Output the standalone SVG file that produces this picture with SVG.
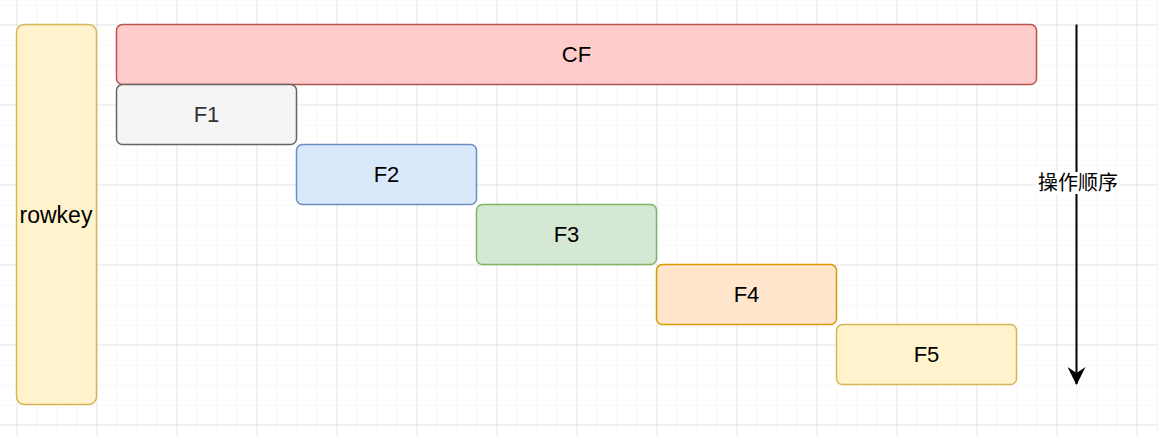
<svg xmlns="http://www.w3.org/2000/svg" width="1158" height="436" viewBox="0 0 1158 436">
<style>
.lbl{font-family:"Liberation Sans",Arial,sans-serif;font-size:22px;text-anchor:middle;dominant-baseline:central;fill:#000}
.cjk{font-family:"Liberation Sans","Noto Sans CJK SC",sans-serif;font-size:20px;text-anchor:middle;dominant-baseline:central;fill:#000}
</style>
<defs>
<pattern id="minor" x="16.5" y="4.5" width="20" height="20" patternUnits="userSpaceOnUse">
<path d="M0 0H20M0 0V20" fill="none" stroke="#efefef" stroke-width="1"/>
</pattern>
<pattern id="major" x="16.5" y="24.5" width="80" height="80" patternUnits="userSpaceOnUse">
<path d="M0 0H80M0 0V80" fill="none" stroke="#d3d3d3" stroke-width="1"/>
</pattern>
<marker id="arr" viewBox="0 0 18 18" refX="17" refY="9" markerWidth="18" markerHeight="18" markerUnits="userSpaceOnUse" orient="auto">
<path d="M0 0L18 9L0 18L6 9Z" fill="#000"/>
</marker>
</defs>
<rect width="1158" height="436" fill="#fff"/>
<rect width="1158" height="436" fill="url(#minor)"/>
<rect width="1158" height="436" fill="url(#major)"/>
<g id="rowkey">
<rect x="16.5" y="24.5" width="80" height="380" rx="8" fill="#fff2cc" stroke="#d6b656" stroke-width="1.5"/>
<text class="lbl" x="56" y="215" style="font-size:23px">rowkey</text>
</g>
<g id="CF">
<rect x="116.5" y="24.5" width="920" height="60" rx="6" fill="#ffcccc" stroke="#b85450" stroke-width="1.5"/>
<text class="lbl" x="576.5" y="54.5">CF</text>
</g>
<g id="F1">
<rect x="116.5" y="84.5" width="180" height="60" rx="6" fill="#f5f5f5" stroke="#666666" stroke-width="1.5"/>
<text class="lbl" x="206.5" y="114.5" style="fill:#333333">F1</text>
</g>
<g id="F2">
<rect x="296.5" y="144.5" width="180" height="60" rx="6" fill="#dae8fc" stroke="#6c8ebf" stroke-width="1.5"/>
<text class="lbl" x="386.5" y="174.5">F2</text>
</g>
<g id="F3">
<rect x="476.5" y="204.5" width="180" height="60" rx="6" fill="#d5e8d4" stroke="#82b366" stroke-width="1.5"/>
<text class="lbl" x="566.5" y="234.5">F3</text>
</g>
<g id="F4">
<rect x="656.5" y="264.5" width="180" height="60" rx="6" fill="#ffe6cc" stroke="#d79b00" stroke-width="1.5"/>
<text class="lbl" x="746.5" y="294.5">F4</text>
</g>
<g id="F5">
<rect x="836.5" y="324.5" width="180" height="60" rx="6" fill="#fff2cc" stroke="#d6b656" stroke-width="1.5"/>
<text class="lbl" x="926.5" y="354.5">F5</text>
</g>
<g id="connectors">
<line x1="1076.5" y1="24.5" x2="1076.5" y2="384" stroke="#000" stroke-width="2" marker-end="url(#arr)"/>
<rect x="1036" y="172" width="84" height="22" fill="#fff"/>
<text class="cjk" x="1078" y="183">操作顺序</text>
</g>
</svg>
